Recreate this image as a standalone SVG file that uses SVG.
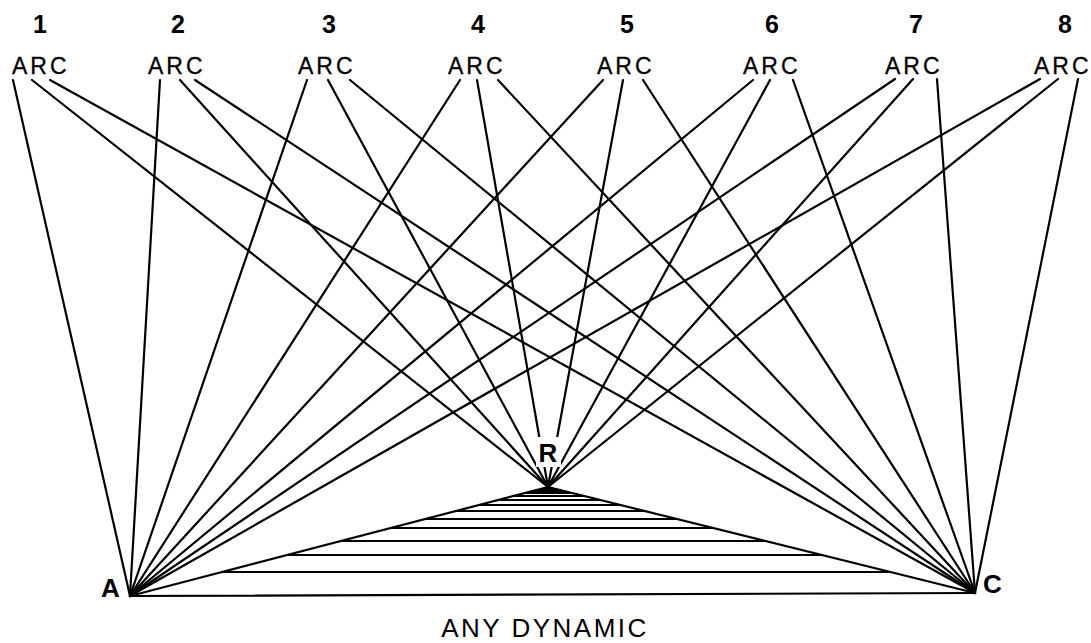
<svg xmlns="http://www.w3.org/2000/svg" width="1091" height="643" viewBox="0 0 1091 643">
<style>
.num{font-family:"Liberation Sans",Arial,sans-serif;font-size:25px;font-weight:bold;text-anchor:middle;fill:#000}
.arc{font-family:"Liberation Sans",Arial,sans-serif;font-size:23px;letter-spacing:3px;fill:#000;stroke:#000;stroke-width:0.3}
.vtx{font-family:"Liberation Sans",Arial,sans-serif;font-size:26px;font-weight:bold;fill:#000}
.cap{font-family:"Liberation Sans",Arial,sans-serif;font-size:26px;letter-spacing:2.5px;text-anchor:middle;fill:#000}
.ln{stroke:#000;stroke-width:2.2;fill:none;stroke-linecap:round}
.hl{stroke:#000;stroke-width:2;fill:none}
</style>
<rect width="1091" height="643" fill="#fff"/>
<g id="connectors">
<line class="ln" x1="13" y1="80" x2="130" y2="596"/>
<line class="ln" x1="32" y1="80" x2="548" y2="487"/>
<line class="ln" x1="50" y1="80" x2="975" y2="593"/>
<line class="ln" x1="160" y1="80" x2="130" y2="596"/>
<line class="ln" x1="180" y1="80" x2="548" y2="487"/>
<line class="ln" x1="195" y1="80" x2="975" y2="593"/>
<line class="ln" x1="307" y1="80" x2="130" y2="596"/>
<line class="ln" x1="328" y1="80" x2="548" y2="487"/>
<line class="ln" x1="350" y1="80" x2="975" y2="593"/>
<line class="ln" x1="460" y1="80" x2="130" y2="596"/>
<line class="ln" x1="477" y1="80" x2="548" y2="487"/>
<line class="ln" x1="498" y1="80" x2="975" y2="593"/>
<line class="ln" x1="603" y1="80" x2="130" y2="596"/>
<line class="ln" x1="623" y1="80" x2="548" y2="487"/>
<line class="ln" x1="643" y1="80" x2="975" y2="593"/>
<line class="ln" x1="753" y1="80" x2="130" y2="596"/>
<line class="ln" x1="770" y1="80" x2="548" y2="487"/>
<line class="ln" x1="793" y1="80" x2="975" y2="593"/>
<line class="ln" x1="895" y1="79" x2="130" y2="596"/>
<line class="ln" x1="913" y1="79" x2="548" y2="487"/>
<line class="ln" x1="937" y1="79" x2="975" y2="593"/>
<line class="ln" x1="1040" y1="79" x2="130" y2="596"/>
<line class="ln" x1="1058" y1="79" x2="548" y2="487"/>
<line class="ln" x1="1078" y1="79" x2="975" y2="593"/>
</g>
<g id="triangle">
<polygon points="548,487 521,494 576,494" fill="#000"/>
<line class="ln" x1="130" y1="596" x2="548" y2="487"/>
<line class="ln" x1="548" y1="487" x2="975" y2="593"/>
<line class="ln" x1="130" y1="596" x2="975" y2="593"/>
<line class="hl" x1="513.5" y1="496" x2="584.3" y2="496"/>
<line class="hl" x1="498.1" y1="500" x2="600.4" y2="500"/>
<line class="hl" x1="479" y1="505" x2="620.5" y2="505"/>
<line class="hl" x1="456" y1="511" x2="644.7" y2="511"/>
<line class="hl" x1="425.3" y1="519" x2="676.9" y2="519"/>
<line class="hl" x1="390.8" y1="528" x2="713.2" y2="528"/>
<line class="hl" x1="340.9" y1="541" x2="765.5" y2="541"/>
<line class="hl" x1="287.2" y1="555" x2="821.9" y2="555"/>
<line class="hl" x1="222" y1="572" x2="890.4" y2="572"/>
</g>
<g id="labels">
<text class="num" x="40" y="33">1</text>
<text class="num" x="178" y="33">2</text>
<text class="num" x="329" y="33">3</text>
<text class="num" x="478" y="33">4</text>
<text class="num" x="627" y="33">5</text>
<text class="num" x="772" y="33">6</text>
<text class="num" x="916" y="33">7</text>
<text class="num" x="1065" y="33">8</text>
</g>
<g id="arc1"><text class="arc" x="12" y="74">ARC</text></g>
<g id="arc2"><text class="arc" x="148" y="74">ARC</text></g>
<g id="arc3"><text class="arc" x="298" y="74">ARC</text></g>
<g id="arc4"><text class="arc" x="448" y="74">ARC</text></g>
<g id="arc5"><text class="arc" x="597" y="74">ARC</text></g>
<g id="arc6"><text class="arc" x="743" y="74">ARC</text></g>
<g id="arc7"><text class="arc" x="885" y="74">ARC</text></g>
<g id="arc8"><text class="arc" x="1034" y="74">ARC</text></g>
<g id="vertexR">
<rect x="536" y="437" width="25" height="30" fill="#fff"/>
<text class="vtx" x="548" y="462" text-anchor="middle">R</text>
</g>
<g id="vertexA"><text class="vtx" x="101" y="597">A</text></g>
<g id="vertexC"><text class="vtx" x="983" y="593">C</text></g>
<g id="caption"><text class="cap" x="545" y="637">ANY DYNAMIC</text></g>
</svg>
